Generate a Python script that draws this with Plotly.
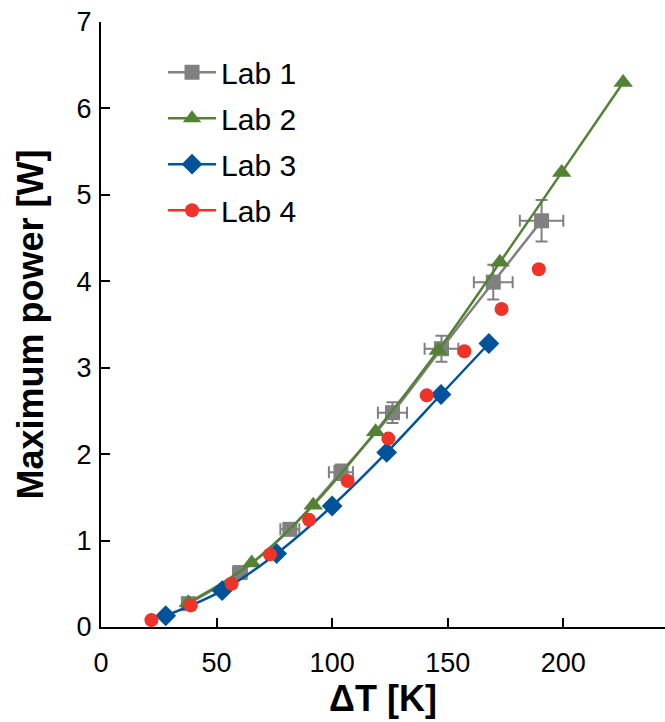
import plotly.graph_objects as go

# Lab 1 (with error bars)
lab1_dt = [37.8, 60.1, 81.7, 103.8, 126.1, 147.3, 169.7, 190.6]
lab1_p = [0.27, 0.63, 1.13, 1.79, 2.48, 3.22, 3.99, 4.70]
lab1_dt_err = [1.9, 3.0, 4.1, 5.2, 6.3, 7.3, 8.4, 9.4]
lab1_p_err = [0.015, 0.03, 0.06, 0.09, 0.12, 0.15, 0.20, 0.24]

# Lab 2
lab2_dt = [37.8, 65.2, 91.8, 118.8, 145.9, 172.6, 199.3, 225.9]
lab2_p = [0.28, 0.74, 1.41, 2.26, 3.20, 4.22, 5.26, 6.30]

# Lab 3
lab3_dt = [28.0, 52.4, 76.0, 100.0, 123.6, 147.1, 167.8]
lab3_p = [0.13, 0.42, 0.85, 1.40, 2.02, 2.69, 3.28]

# Lab 4 (markers only)
lab4_dt = [21.8, 38.8, 56.5, 73.1, 90.0, 106.7, 124.3, 140.9, 157.2, 173.3, 189.4]
lab4_p = [0.08, 0.25, 0.50, 0.84, 1.24, 1.69, 2.18, 2.68, 3.19, 3.68, 4.14]

x_ticks = [0, 50, 100, 150, 200]
y_ticks = [0, 1, 2, 3, 4, 5, 6, 7]

GRAY = "#808080"
GREEN = "#548235"
BLUE = "#00539B"
RED = "#EE3329"

fig = go.Figure()

fig.add_trace(go.Scatter(
    x=lab1_dt, y=lab1_p, name="Lab 1", mode="lines+markers",
    line=dict(color=GRAY, width=2.5, shape="spline"),
    marker=dict(symbol="square", size=15, color=GRAY),
    error_x=dict(type="data", array=lab1_dt_err, color=GRAY, thickness=2, width=6),
    error_y=dict(type="data", array=lab1_p_err, color=GRAY, thickness=2, width=6),
    legendgroup="1",
))
fig.add_trace(go.Scatter(
    x=lab2_dt, y=lab2_p, name="Lab 2", mode="lines+markers",
    line=dict(color=GREEN, width=2.5, shape="spline"),
    marker=dict(symbol="triangle-up", size=17, color=GREEN),
    legendgroup="2",
))
fig.add_trace(go.Scatter(
    x=lab3_dt, y=lab3_p, name="Lab 3", mode="lines+markers",
    line=dict(color=BLUE, width=2.5, shape="spline"),
    marker=dict(symbol="diamond", size=16, color=BLUE),
    legendgroup="3",
))
fig.add_trace(go.Scatter(
    x=lab4_dt, y=lab4_p, name="Lab 4", mode="markers",
    marker=dict(symbol="circle", size=14, color=RED),
    legendgroup="4", showlegend=False,
))
fig.add_trace(go.Scatter(
    x=[None], y=[None], name="Lab 4", mode="lines+markers",
    line=dict(color=RED, width=2.5),
    marker=dict(symbol="circle", size=14, color=RED),
    legendgroup="4",
))

font_family = "Liberation Sans, Arial, sans-serif"

fig.update_layout(
    width=665, height=722,
    margin=dict(l=101, r=0, t=22, b=95),
    paper_bgcolor="white", plot_bgcolor="white",
    font=dict(family=font_family, color="black", size=27),
    showlegend=True,
    legend=dict(
        x=0.11, y=0.96, xanchor="left", yanchor="top",
        font=dict(size=30, color="black"),
        bgcolor="rgba(0,0,0,0)",
        tracegroupgap=4,
        itemwidth=48,
    ),
    xaxis=dict(
        range=[0, 244], tickvals=x_ticks, ticks="inside", ticklen=9, tickwidth=2,
        tickcolor="black", showline=True, linecolor="black", linewidth=2,
        showgrid=False, zeroline=False, tickfont=dict(size=27),
        ticklabelstandoff=11,
        title=dict(text="<b>ΔT [K]</b>", font=dict(size=36), standoff=6),
    ),
    yaxis=dict(
        range=[0, 7], tickvals=y_ticks, ticks="inside", ticklen=9, tickwidth=2,
        tickcolor="black", showline=True, linecolor="black", linewidth=2,
        showgrid=False, zeroline=False, tickfont=dict(size=27),
        ticklabelstandoff=2,
        title=dict(text="<b>Maximum power [W]</b>", font=dict(size=36), standoff=22),
    ),
)

fig.write_html("out.html")
